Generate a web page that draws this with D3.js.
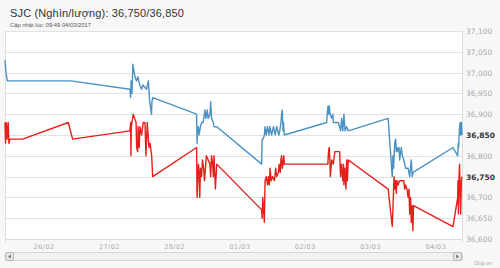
<!DOCTYPE html>
<html>
<head>
<meta charset="utf-8">
<script src="https://cdn.jsdelivr.net/npm/d3@7"></script>
<style>
  body { margin: 0; background: #f7f7f7; }
  svg { display: block; font-family: "Liberation Sans", Arial, sans-serif; }
</style>
</head>
<body>
<script>
// titles
var title = "SJC (Nghìn/lượng): 36,750/36,850";
var subtitle = "Cập nhật lúc: 09:49 04/03/2017";
var credit = "Doji.vn";

// time window shown (7 days up to the update time)
var startTime = "25/02 09:49";
var endTime = "04/03 09:49";

// y ticks
var yTicks = [36600, 36650, 36700, 36750, 36800, 36850, 36900, 36950, 37000, 37050, 37100];
var currentValues = [36750, 36850];

// buy price (red)
var buyData = [
  ["25/02 09:49", 36880], ["25/02 10:00", 36830], ["25/02 10:15", 36880], ["25/02 10:35", 36840],
  ["25/02 10:50", 36870], ["25/02 11:00", 36880], ["25/02 11:15", 36830], ["25/02 11:40", 36840],
  ["25/02 16:20", 36840], ["26/02 09:05", 36880], ["26/02 10:40", 36840],
  ["27/02 07:45", 36860], ["27/02 08:00", 36880], ["27/02 08:07", 36800], ["27/02 08:15", 36870],
  ["27/02 08:58", 36900], ["27/02 09:30", 36890], ["27/02 10:00", 36880], ["27/02 10:13", 36820],
  ["27/02 10:35", 36810], ["27/02 10:45", 36870], ["27/02 11:10", 36820], ["27/02 11:26", 36870],
  ["27/02 12:03", 36850], ["27/02 12:38", 36880], ["27/02 13:16", 36880], ["27/02 13:38", 36800],
  ["27/02 14:07", 36880], ["27/02 14:44", 36820], ["27/02 15:10", 36830], ["27/02 15:44", 36800],
  ["27/02 16:06", 36750],
  ["28/02 08:15", 36820], ["28/02 08:25", 36700], ["28/02 08:55", 36780], ["28/02 09:10", 36760],
  ["28/02 09:25", 36700], ["28/02 09:40", 36770], ["28/02 10:05", 36750], ["28/02 10:25", 36790],
  ["28/02 10:50", 36770], ["28/02 11:10", 36740], ["28/02 11:50", 36800], ["28/02 12:30", 36790],
  ["28/02 13:10", 36780], ["28/02 13:25", 36750], ["28/02 13:45", 36800], ["28/02 14:10", 36780],
  ["28/02 14:25", 36750], ["28/02 14:40", 36800], ["28/02 15:10", 36720], ["28/02 15:40", 36780],
  ["01/03 08:10", 36670], ["01/03 08:20", 36650], ["01/03 08:35", 36700], ["01/03 09:10", 36640],
  ["01/03 09:25", 36740], ["01/03 09:50", 36750], ["01/03 10:20", 36730], ["01/03 10:40", 36750],
  ["01/03 11:00", 36730], ["01/03 11:15", 36770], ["01/03 11:40", 36740], ["01/03 12:10", 36750],
  ["01/03 12:50", 36740], ["01/03 13:20", 36770], ["01/03 13:40", 36750], ["01/03 14:20", 36760],
  ["01/03 14:35", 36780], ["01/03 15:00", 36760], ["01/03 15:15", 36790], ["01/03 15:30", 36800],
  ["01/03 15:45", 36770], ["01/03 16:00", 36780], ["01/03 16:20", 36800], ["01/03 16:30", 36780],
  ["02/03 08:05", 36780], ["02/03 08:30", 36780], ["02/03 08:45", 36810], ["02/03 09:00", 36820],
  ["02/03 09:15", 36790], ["02/03 09:25", 36750], ["02/03 09:55", 36790], ["02/03 10:30", 36780],
  ["02/03 11:05", 36810], ["02/03 12:50", 36810], ["02/03 13:10", 36750], ["02/03 13:30", 36780],
  ["02/03 14:00", 36740], ["02/03 14:15", 36780], ["02/03 14:25", 36730], ["02/03 14:45", 36770],
  ["02/03 15:10", 36720], ["02/03 15:25", 36790], ["02/03 15:40", 36740], ["02/03 16:00", 36790],
  ["03/03 06:40", 36720], ["03/03 08:10", 36630], ["03/03 08:25", 36670], ["03/03 08:50", 36750],
  ["03/03 09:05", 36720], ["03/03 09:25", 36740], ["03/03 09:40", 36710], ["03/03 09:55", 36740],
  ["03/03 10:20", 36730], ["03/03 10:50", 36740], ["03/03 12:25", 36740], ["03/03 12:45", 36720],
  ["03/03 13:05", 36730], ["03/03 13:35", 36720], ["03/03 14:00", 36700], ["03/03 14:20", 36720],
  ["03/03 14:35", 36660], ["03/03 14:55", 36700], ["03/03 15:10", 36640], ["03/03 15:30", 36680],
  ["03/03 15:45", 36620], ["03/03 16:00", 36680],
  ["04/03 06:30", 36630], ["04/03 08:15", 36700], ["04/03 08:20", 36740], ["04/03 08:30", 36660],
  ["04/03 08:40", 36740], ["04/03 08:55", 36780], ["04/03 09:10", 36700], ["04/03 09:20", 36660],
  ["04/03 09:35", 36740], ["04/03 09:49", 36750]
];

// sell price (blue)
var sellData = [
  ["25/02 09:49", 37030], ["25/02 10:10", 37000], ["25/02 10:40", 36980], ["26/02 10:00", 36980],
  ["27/02 07:45", 36960], ["27/02 08:00", 36940], ["27/02 08:10", 36980], ["27/02 08:30", 36950],
  ["27/02 08:50", 37020], ["27/02 09:20", 37000], ["27/02 09:35", 36990], ["27/02 10:10", 36980],
  ["27/02 10:40", 36990], ["27/02 11:20", 36970], ["27/02 12:00", 36960], ["27/02 12:30", 36970],
  ["27/02 13:50", 36960], ["27/02 14:30", 36980], ["27/02 14:50", 36950], ["27/02 15:00", 36930],
  ["27/02 15:40", 36900], ["27/02 15:50", 36930], ["27/02 16:10", 36940],
  ["28/02 08:15", 36900], ["28/02 08:25", 36830], ["28/02 08:35", 36860], ["28/02 08:55", 36870],
  ["28/02 09:10", 36850], ["28/02 09:40", 36870], ["28/02 10:05", 36880], ["28/02 10:40", 36880],
  ["28/02 11:20", 36910], ["28/02 11:40", 36890], ["28/02 12:10", 36910], ["28/02 12:30", 36890],
  ["28/02 13:10", 36900], ["28/02 13:25", 36930], ["28/02 13:45", 36890], ["28/02 14:25", 36880],
  ["28/02 14:40", 36870], ["28/02 15:40", 36870],
  ["01/03 08:10", 36780], ["01/03 08:20", 36840], ["01/03 08:40", 36840], ["01/03 09:10", 36850],
  ["01/03 09:25", 36870], ["01/03 09:50", 36850], ["01/03 10:20", 36870], ["01/03 10:50", 36850],
  ["01/03 11:10", 36870], ["01/03 11:50", 36850], ["01/03 12:30", 36870], ["01/03 13:10", 36850],
  ["01/03 13:40", 36870], ["01/03 14:30", 36850], ["01/03 14:50", 36860], ["01/03 15:15", 36880],
  ["01/03 15:30", 36900], ["01/03 15:45", 36910], ["01/03 16:00", 36860], ["01/03 16:10", 36880],
  ["01/03 16:30", 36850],
  ["02/03 08:05", 36880], ["02/03 08:15", 36900], ["02/03 08:35", 36920], ["02/03 08:50", 36900],
  ["02/03 09:00", 36920], ["02/03 09:20", 36900], ["02/03 09:55", 36890], ["02/03 10:20", 36900],
  ["02/03 10:30", 36880], ["02/03 12:20", 36880], ["02/03 13:10", 36860], ["02/03 13:35", 36890],
  ["02/03 14:00", 36860], ["02/03 14:25", 36900], ["02/03 14:50", 36860], ["02/03 15:25", 36870],
  ["02/03 16:00", 36860],
  ["03/03 06:40", 36890], ["03/03 08:10", 36750], ["03/03 08:25", 36800], ["03/03 08:40", 36770],
  ["03/03 09:05", 36830], ["03/03 09:25", 36840], ["03/03 09:40", 36810], ["03/03 09:55", 36820],
  ["03/03 10:20", 36810], ["03/03 10:40", 36820], ["03/03 10:55", 36790], ["03/03 11:30", 36820],
  ["03/03 11:55", 36800], ["03/03 12:25", 36790], ["03/03 13:05", 36770], ["03/03 14:00", 36770],
  ["03/03 14:35", 36750], ["03/03 15:10", 36790], ["03/03 15:30", 36750], ["03/03 15:50", 36760],
  ["04/03 06:30", 36820], ["04/03 08:15", 36800], ["04/03 08:25", 36830], ["04/03 08:35", 36820],
  ["04/03 08:50", 36860], ["04/03 09:05", 36880], ["04/03 09:20", 36850], ["04/03 09:35", 36880],
  ["04/03 09:49", 36850]
];

//setup
var W = 500, H = 268;
var plot = { left: 5, right: 462, top: 31, bottom: 239 };

var parse = d3.timeParse("%d/%m/%Y %H:%M");
function toDate(s) { return parse(s.replace(" ", "/2017 ")); }

var svg = d3.select("body").append("svg")
    .attr("width", W)
    .attr("height", H);

// x axis with the time
var x = d3.scaleTime()
    .domain([toDate(startTime), toDate(endTime)])
    .range([plot.left, plot.right]);

// y axis with prices
var y = d3.scaleLinear()
    .domain([d3.min(yTicks), d3.max(yTicks)])
    .range([plot.bottom, plot.top]);

// plot background
svg.append("rect")
    .attr("x", plot.left)
    .attr("y", plot.top)
    .attr("width", plot.right - plot.left)
    .attr("height", plot.bottom - plot.top)
    .attr("fill", "#fff");

// grid lines
svg.append("g")
    .selectAll("line")
    .data(yTicks)
    .join("line")
    .attr("x1", plot.left)
    .attr("x2", plot.right)
    .attr("y1", function (d) { return Math.round(y(d)) + 0.5; })
    .attr("y2", function (d) { return Math.round(y(d)) + 0.5; })
    .attr("stroke", "#e2e2e2")
    .attr("stroke-width", 1);

// plot frame sides
svg.append("g")
    .selectAll("line")
    .data([plot.left, plot.right])
    .join("line")
    .attr("x1", function (d) { return d + 0.5; })
    .attr("x2", function (d) { return d + 0.5; })
    .attr("y1", plot.top)
    .attr("y2", plot.bottom)
    .attr("stroke", "#dcdcdc");

// right axis labels
var yAxis = svg.append("g")
    .attr("transform", "translate(" + (plot.right + 4) + ",0)")
    .call(d3.axisRight(y).tickValues(yTicks).tickSize(0).tickFormat(d3.format(",")));
yAxis.select(".domain").remove();
yAxis.selectAll("text")
    .attr("x", 0)
    .attr("font-size", 7.5)
    .attr("font-family", "DejaVu Sans, sans-serif")
    .attr("fill", function (d) { return currentValues.indexOf(d) >= 0 ? "#333" : "#a8a8a8"; })
    .attr("font-weight", function (d) { return currentValues.indexOf(d) >= 0 ? "bold" : "normal"; });

// bottom axis with days
var xAxis = svg.append("g")
    .attr("transform", "translate(0," + plot.bottom + ")")
    .call(d3.axisBottom(x).ticks(d3.timeDay.every(1)).tickSize(3).tickPadding(2).tickFormat(d3.timeFormat("%d/%m")));
xAxis.select(".domain").attr("stroke", "#dcdcdc");
xAxis.selectAll(".tick line").attr("stroke", "#dcdcdc");
xAxis.selectAll("text")
    .attr("font-size", 6.5)
    .attr("font-family", "DejaVu Sans, sans-serif")
    .attr("letter-spacing", 0.4)
    .attr("fill", "#a8a8a8");

// lines
var line = d3.line()
    .x(function (d) { return x(toDate(d[0])); })
    .y(function (d) { return y(d[1]); });

svg.append("path")
    .datum(sellData)
    .attr("fill", "none")
    .attr("stroke", "#4a92c1")
    .attr("stroke-width", 1.4)
    .attr("stroke-linejoin", "round")
    .attr("d", line);

svg.append("path")
    .datum(buyData)
    .attr("fill", "none")
    .attr("stroke", "#e3201b")
    .attr("stroke-width", 1.4)
    .attr("stroke-linejoin", "round")
    .attr("d", line);

// scrollbar
var sb = svg.append("g").attr("transform", "translate(0,252)");
sb.append("rect")
    .attr("x", plot.left + 0.5).attr("y", 0.5)
    .attr("width", plot.right - plot.left).attr("height", 8)
    .attr("rx", 2)
    .attr("fill", "#f2f2f2").attr("stroke", "#d6d6d6");
[plot.left + 0.5, plot.right - 8.5].forEach(function (bx, i) {
    sb.append("rect")
        .attr("x", bx).attr("y", 0.5)
        .attr("width", 8).attr("height", 8)
        .attr("rx", 1.5)
        .attr("fill", "#e6e6e6").attr("stroke", "#b8b8b8");
    var cx = bx + 4;
    var pts = i === 0
        ? [[cx + 1.2, 2.5], [cx + 1.2, 6.5], [cx - 1.3, 4.5]]
        : [[cx - 1.2, 2.5], [cx - 1.2, 6.5], [cx + 1.3, 4.5]];
    sb.append("path")
        .attr("d", "M" + pts.join("L") + "Z")
        .attr("fill", "#666");
});

// texts
svg.append("text")
    .attr("x", 10).attr("y", 17)
    .attr("font-size", 11)
    .attr("letter-spacing", 0.15)
    .attr("fill", "#333")
    .text(title);

svg.append("text")
    .attr("x", 10).attr("y", 26.5)
    .attr("font-size", 5.8)
    .attr("fill", "#555")
    .text(subtitle);

svg.append("text")
    .attr("x", 474).attr("y", 265)
    .attr("font-size", 6)
    .attr("fill", "#aaa")
    .text(credit);
</script>
</body>
</html>
